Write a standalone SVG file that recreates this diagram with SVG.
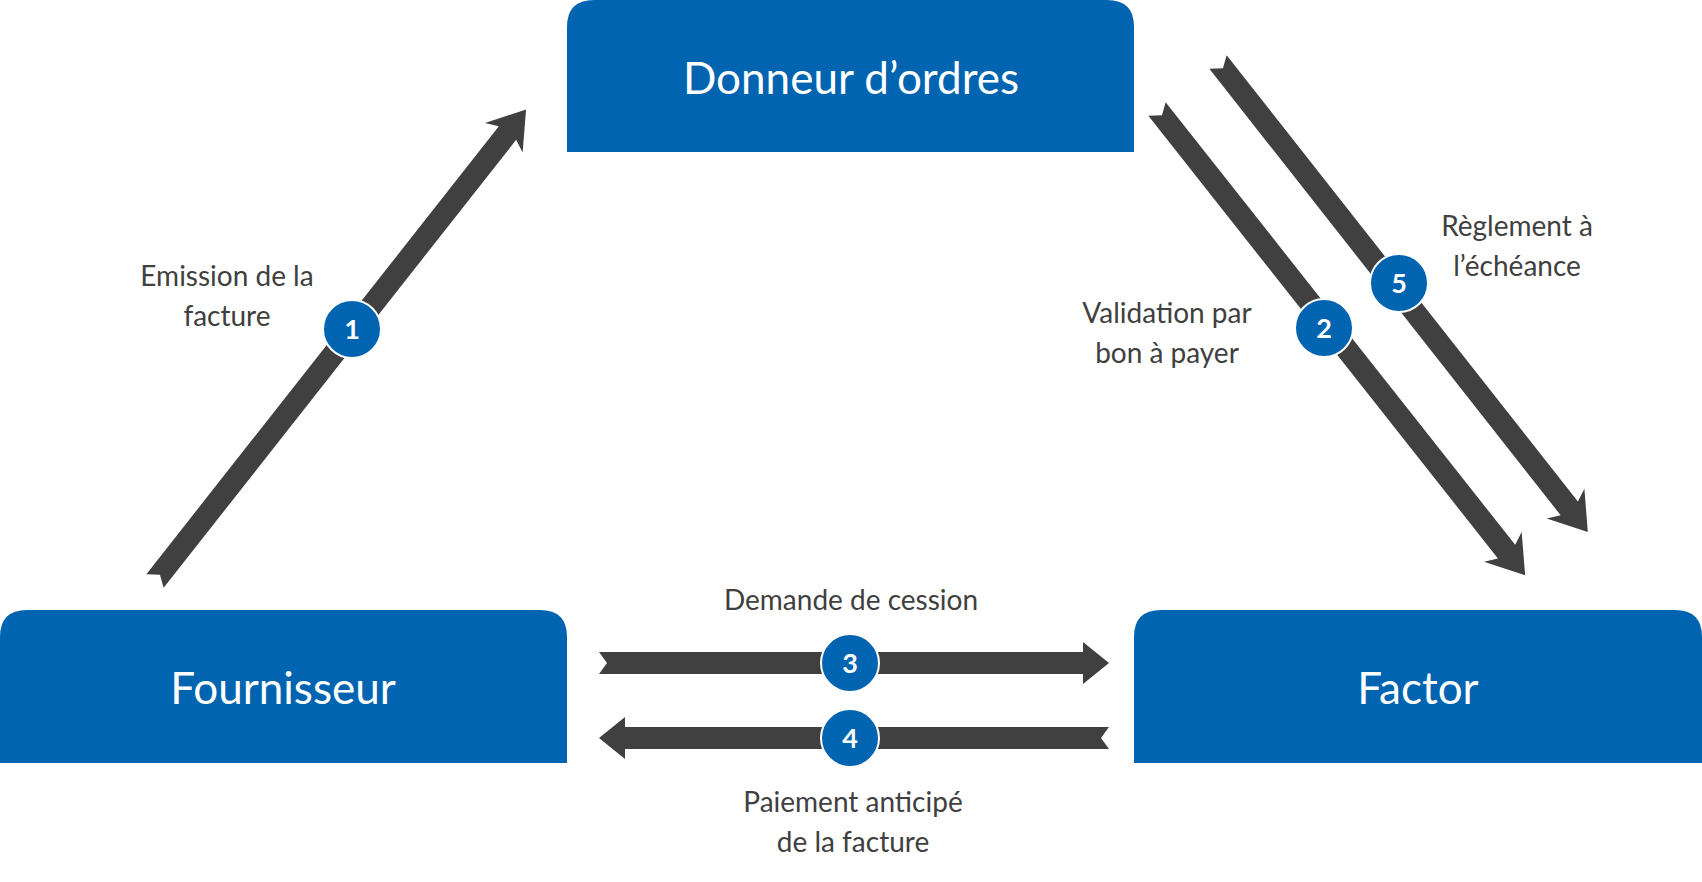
<svg xmlns="http://www.w3.org/2000/svg" width="1702" height="882" viewBox="0 0 1702 882">
<style>
.box{fill:#0064b0}
.bt{fill:#fff;font-family:Lato,"Open Sans",sans-serif;font-size:44px;text-anchor:middle}
.lb{fill:#404040;font-family:Lato,"Open Sans",sans-serif;font-size:28px;text-anchor:middle}
.ar{fill:#404040}
.c{fill:#0064b0;stroke:#fff;stroke-width:2}
.ct{fill:#fff;font-family:Lato,"Open Sans",sans-serif;font-size:27px;font-weight:bold;text-anchor:middle}
</style>
<rect width="1702" height="882" fill="#fff"/>
<g id="donneur"><path class="box" d="M567,152 V27 Q567,0 594,0 H1107 Q1134,0 1134,27 V152 Z"/><text class="bt" x="851" y="94">Donneur d’ordres</text></g>
<g id="fournisseur"><path class="box" d="M0,763 V637 Q0,610 27,610 H540 Q567,610 567,637 V763 Z"/><text class="bt" x="283" y="704">Fournisseur</text></g>
<g id="factor"><path class="box" d="M1134,763 V637 Q1134,610 1161,610 H1675 Q1702,610 1702,637 V763 Z"/><text class="bt" x="1418" y="704">Factor</text></g>
<g id="connectors">
<polygon class="ar" transform="translate(155,581) rotate(-51.8)" points="0,-11 570,-11 564,-24 600,0 564,24 570,11 0,11 8,0"/>
<polygon class="ar" transform="translate(1157,109) rotate(51.7)" points="0,-11 564,-11 558,-24 594,0 558,24 564,11 0,11 8,0"/>
<polygon class="ar" transform="translate(1218,62) rotate(51.8)" points="0,-11 568,-11 562,-24 598,0 562,24 568,11 0,11 8,0"/>
<polygon class="ar" transform="translate(599,663)" points="0,-11 484,-11 484,-21 510,0 484,21 484,11 0,11 8,0"/>
<polygon class="ar" transform="translate(1109,738) rotate(180)" points="0,-11 484,-11 484,-21 510,0 484,21 484,11 0,11 8,0"/>
</g>
<g id="n1"><circle class="c" cx="352" cy="329" r="29"/><text class="ct" x="352" y="339">1</text></g>
<g id="n2"><circle class="c" cx="1324" cy="328" r="29"/><text class="ct" x="1324" y="338">2</text></g>
<g id="n5"><circle class="c" cx="1399" cy="283" r="29"/><text class="ct" x="1399" y="293">5</text></g>
<g id="n3"><circle class="c" cx="850" cy="663" r="29"/><text class="ct" x="850" y="673">3</text></g>
<g id="n4"><circle class="c" cx="850" cy="738" r="29"/><text class="ct" x="850" y="748">4</text></g>
<g id="labels">
<text class="lb" x="227" y="286">Emission de la</text><text class="lb" x="227" y="326">facture</text>
<text class="lb" x="1167" y="323">Validation par</text><text class="lb" x="1167" y="363">bon à payer</text>
<text class="lb" x="1517" y="236">Règlement à</text><text class="lb" x="1517" y="276">l’échéance</text>
<text class="lb" x="851" y="610">Demande de cession</text>
<text class="lb" x="853" y="812">Paiement anticipé</text><text class="lb" x="853" y="852">de la facture</text>
</g>
</svg>
